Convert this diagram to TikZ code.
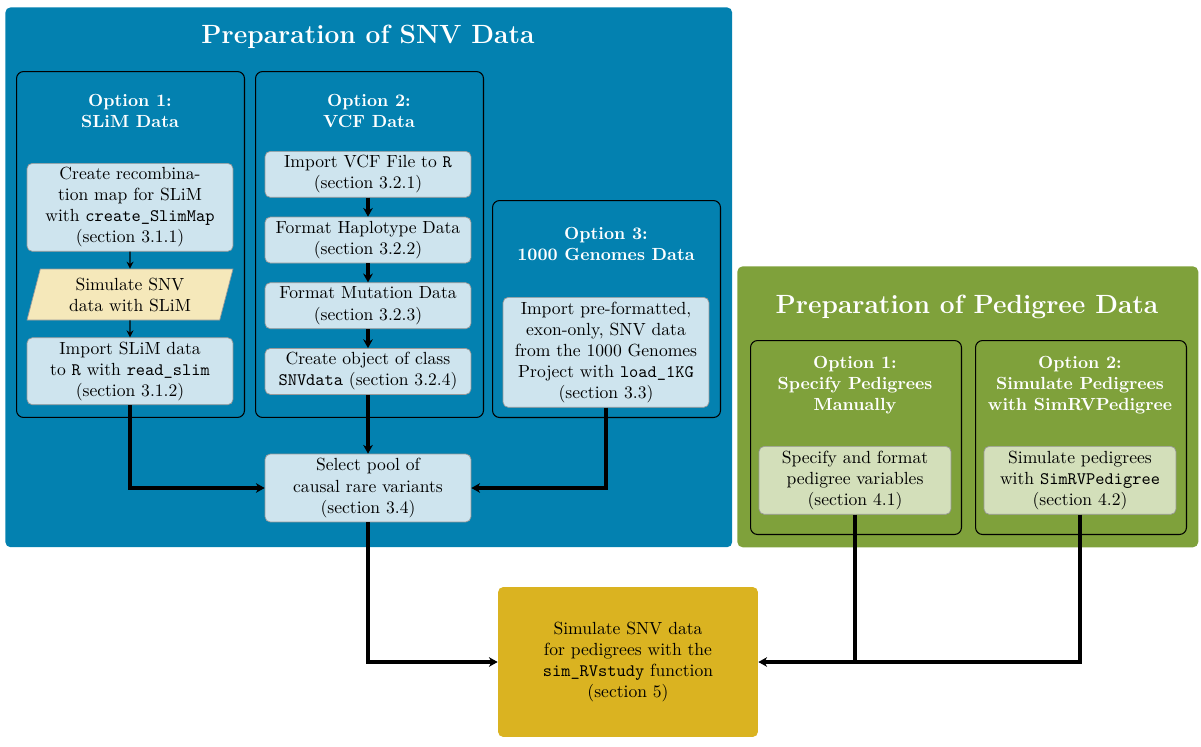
\documentclass[tikz,border=0pt]{standalone}
\usepackage{fontspec}
\usepackage{amsmath}
\usepackage{color}
\usepackage{tikz}
\usetikzlibrary{positioning,shapes.geometric,arrows.meta}

\definecolor{snvblue}{RGB}{3,129,176}
\definecolor{pedgreen}{RGB}{127,161,59}
\definecolor{studyyellow}{RGB}{218,179,33}
\definecolor{stepblue}{RGB}{206,228,238}
\definecolor{stepgreen}{RGB}{211,223,186}
\definecolor{slimtan}{RGB}{245,232,186}

\tikzset{
panel/.style={anchor=north west, rounded corners=3pt, inner sep=0pt},
optbox/.style={anchor=north west, draw=black, semithick, rounded corners=4pt, inner sep=0pt},
stepbox/.style={draw=gray!80, fill=stepblue, rounded corners=3pt, align=center, minimum width=4.12cm, inner sep=2pt},
head/.style={text=white, font=\bfseries, align=center},
bigtitle/.style={text=white, font=\fontsize{15}{18}\selectfont\bfseries},
conn/.style={line width=2pt, -{Stealth[length=5pt,width=5.5pt]}}
}

\begin{document}
\begin{tikzpicture}[x=0.02cm, y=-0.02cm]
\useasboundingbox (0,0) rectangle (1201,747);

\node[panel, fill=snvblue, minimum width=14.54cm, minimum height=10.8cm] (snv) at (5,7) {}; \node[panel, fill=pedgreen, minimum width=9.22cm, minimum height=5.62cm] (ped) at (737,266) {};
\node[optbox, minimum width=4.56cm, minimum height=6.92cm] (opt1) at (16,71) {}; \node[optbox, minimum width=4.56cm, minimum height=6.92cm] (opt2) at (255,71) {}; \node[optbox, minimum width=4.56cm, minimum height=4.34cm] (opt3) at (492,200) {};
\node[optbox, minimum width=4.22cm, minimum height=3.88cm] (pedopt1) at (750,340) {}; \node[optbox, minimum width=4.22cm, minimum height=3.88cm] (pedopt2) at (975,340) {};

\node[bigtitle] (snvtitle) at (368,37) {Preparation of SNV Data}; \node[bigtitle] (pedtitle) at (967,307) {Preparation of Pedigree Data};
\node[head] (opt1title) at (130,111) {Option 1:\\SLiM Data}; \node[head] (opt2title) at (369,111) {Option 2:\\VCF Data}; \node[head] (opt3title) at (606,244) {Option 3:\\1000 Genomes Data};
\node[head] (pedopt1title) at (855,385) {Option 1:\\Specify Pedigrees\\Manually}; \node[head] (pedopt2title) at (1080,385) {Option 2:\\Simulate Pedigrees\\with SimRVPedigree};

\node[stepbox, anchor=north, minimum height=1.76cm] (recomb) at (130,163) {Create recombina-\\tion map for SLiM\\with \texttt{create\_SlimMap}\\(section 3.1.1)};
\node[trapezium, trapezium left angle=72, trapezium right angle=108, trapezium stretches body, draw=gray!80, fill=slimtan, align=center, minimum width=4.12cm, minimum height=1.02cm, inner sep=2pt, below=0.34cm of recomb] (simslim) {Simulate SNV\\data with SLiM};
\node[stepbox, minimum height=1.34cm, below=0.34cm of simslim] (readslim) {Import SLiM data\\to \texttt{R} with \texttt{read\_slim}\\(section 3.1.2)};

\node[stepbox, anchor=north, minimum height=0.92cm] (vcfimport) at (368,151) {Import VCF File to \texttt{R}\\(section 3.2.1)};
\node[stepbox, minimum height=0.92cm, below=0.38cm of vcfimport] (haplo) {Format Haplotype Data\\(section 3.2.2)};
\node[stepbox, minimum height=0.92cm, below=0.38cm of haplo] (mutation) {Format Mutation Data\\(section 3.2.3)};
\node[stepbox, minimum height=0.92cm, below=0.38cm of mutation] (snvdata) {Create object of class\\\texttt{SNVdata} (section 3.2.4)};

\node[stepbox, anchor=north, minimum height=2.2cm] (kgimport) at (606,297) {Import pre-formatted,\\exon-only, SNV data\\from the 1000 Genomes\\Project with \texttt{load\_1KG}\\(section 3.3)};
\node[stepbox, minimum height=1.36cm] (pool) at (368,488) {Select pool of\\causal rare variants\\(section 3.4)};

\node[stepbox, fill=stepgreen, anchor=north, minimum width=3.84cm, minimum height=1.36cm] (pedspec) at (855,446) {Specify and format\\pedigree variables\\(section 4.1)};
\node[stepbox, fill=stepgreen, anchor=north, minimum width=3.84cm, minimum height=1.36cm] (pedsim) at (1080,446) {Simulate pedigrees\\with \texttt{SimRVPedigree}\\(section 4.2)};

\node[rounded corners=3pt, fill=studyyellow, align=center, minimum width=5.2cm, minimum height=3cm] (study) at (628,662) {Simulate SNV data\\for pedigrees with the\\\texttt{sim\_RVstudy} function\\(section 5)};

\draw[thick, -{Stealth[length=4pt,width=4pt]}] (recomb) -- (simslim); \draw[thick, -{Stealth[length=4pt,width=4pt]}] (simslim) -- (readslim);
\draw[conn] (vcfimport) -- (haplo); \draw[conn] (haplo) -- (mutation); \draw[conn] (mutation) -- (snvdata);
\draw[conn] (readslim.south) |- (pool.west); \draw[conn] (snvdata) -- (pool); \draw[conn] (kgimport.south) |- (pool.east);
\draw[conn] (pool.south) |- (study.west); \draw[conn] (pedsim.south) |- (study.east); \draw[line width=2pt] (pedspec.south) -- (pedspec.south |- study.east);
\end{tikzpicture}
\end{document}
